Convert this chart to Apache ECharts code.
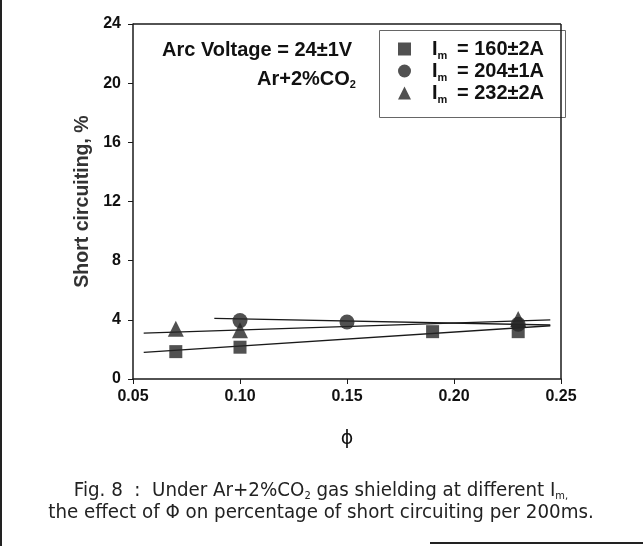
<!DOCTYPE html>
<html><head><meta charset="utf-8">
<script src="https://cdn.jsdelivr.net/npm/echarts@6/dist/echarts.min.js"></script>
<style>html,body{margin:0;padding:0;background:#fff}#c{width:643px;height:546px}</style>
</head><body><div id="c"></div>
<script>
// Data
const xTicks = [0.05, 0.10, 0.15, 0.20, 0.25];
const yTicks = [0, 4, 8, 12, 16, 20, 24];
const seriesNames = ['160±2A', '204±1A', '232±2A'];
const sqX = [0.07, 0.10, 0.19, 0.23];
const sqY = [1.85, 2.15, 3.2, 3.2];
const ciX = [0.10, 0.15, 0.23];
const ciY = [3.95, 3.85, 3.7];
const trX = [0.07, 0.10, 0.23];
const trY = [3.4, 3.3, 4.05];
// fitted lines (endpoints)
const sqFitX = [0.055, 0.245], sqFitY = [1.8, 3.6];
const ciFitX = [0.088, 0.245], ciFitY = [4.1, 3.65];
const trFitX = [0.055, 0.245], trFitY = [3.1, 4.0];

const zip = (a, b) => a.map((v, i) => [v, b[i]]);
const ink = '#1a1a1a';
const chart = echarts.init(document.getElementById('c'));
const fitLine = (name, xs, ys) => ({
  type: 'line', name: name, data: zip(xs, ys), showSymbol: false, symbol: 'none',
  lineStyle: { color: ink, width: 1.3 }, z: 2, silent: true
});
const pts = (name, xs, ys, sym, size) => ({
  type: 'scatter', name: name, data: zip(xs, ys), symbol: sym, symbolSize: size,
  itemStyle: { color: '#262626' }, z: 3
});
const bold = (s) => 'bold ' + s + 'px "Liberation Sans", Arial, sans-serif';
const cap = '20.3px "DejaVu Sans Condensed", "DejaVu Sans", sans-serif';
const capSub = '11px "DejaVu Sans Condensed", "DejaVu Sans", sans-serif';
chart.setOption({
  animation: false,
  backgroundColor: '#fff',
  grid: { left: 133, right: 82, top: 24, bottom: 167 },
  xAxis: {
    type: 'value', min: 0.05, max: 0.25, interval: 0.05,
    name: 'ϕ', nameLocation: 'middle', nameGap: 51,
    nameTextStyle: { fontFamily: 'DejaVu Sans', fontSize: 19, color: '#111' },
    axisLine: { show: true, lineStyle: { color: ink, width: 1.5 } },
    axisTick: { show: true, inside: false, length: 5, lineStyle: { color: ink } },
    axisLabel: { fontFamily: 'Liberation Sans', fontWeight: 'bold', fontSize: 16, color: '#111', margin: 10,
      formatter: v => v.toFixed(2) },
    splitLine: { show: false }
  },
  yAxis: {
    type: 'value', min: 0, max: 24, interval: 4,
    name: 'Short circuiting, %', nameLocation: 'middle', nameGap: 40,
    nameTextStyle: { fontFamily: 'Liberation Sans', fontWeight: 'bold', fontSize: 19.5, color: '#333' },
    axisLine: { show: true, lineStyle: { color: ink, width: 1.5 } },
    axisTick: { show: true, inside: false, length: 5, lineStyle: { color: ink } },
    axisLabel: { fontFamily: 'Liberation Sans', fontWeight: 'bold', fontSize: 16, color: '#111', margin: 12 },
    splitLine: { show: false }
  },
  legend: {
    left: 393, top: 34, orient: 'vertical', itemGap: 0, itemWidth: 13, itemHeight: 13,
    data: [
      { name: seriesNames[0], icon: 'rect' },
      { name: seriesNames[1], icon: 'circle' },
      { name: seriesNames[2], icon: 'triangle' }
    ],
    formatter: n => '{g|}{a|I}{s|m}{a| = ' + n + '}',
    textStyle: {
      color: '#111',
      rich: {
        g: { width: 16, lineHeight: 24 },
        a: { fontFamily: 'Liberation Sans', fontWeight: 'bold', fontSize: 20, color: '#111', lineHeight: 24 },
        s: { fontFamily: 'Liberation Sans', fontWeight: 'bold', fontSize: 11, color: '#111', lineHeight: 11, verticalAlign: 'bottom', padding: [0, 4, 0, 0] }
      }
    }
  },
  graphic: [
    { type: 'rect', left: 377, top: 28, shape: { width: 186, height: 87 }, style: { fill: 'none', stroke: '#666', lineWidth: 1 }, silent: true },
    { type: 'line', shape: { x1: 133, y1: 24, x2: 561, y2: 24 }, style: { stroke: ink, lineWidth: 1.5 } },
    { type: 'line', shape: { x1: 561, y1: 24, x2: 561, y2: 379 }, style: { stroke: ink, lineWidth: 1.5 } },
    { type: 'text', x: 162, y: 50, style: { text: 'Arc Voltage = 24±1V', font: bold(20), fill: '#111', verticalAlign: 'middle' } },
    { type: 'text', x: 257, y: 79, style: {
      text: '{a|Ar+2%CO}{s|2}', verticalAlign: 'middle',
      rich: { a: { font: bold(20), fill: '#111', lineHeight: 22 }, s: { font: bold(11), fill: '#111', lineHeight: 11, verticalAlign: 'bottom' } } } },
    { type: 'text', x: 321, y: 491, style: {
      text: '{a|Fig. 8  :  Under Ar+2%CO}{s|2}{a| gas shielding at different I}{s|m,}',
      align: 'center', verticalAlign: 'middle',
      rich: { a: { font: cap, fill: '#222' }, s: { font: capSub, fill: '#222', padding: [10, 0, 0, 0] } } } },
    { type: 'text', x: 321, y: 513, style: {
      text: 'the effect of Φ on percentage of short circuiting per 200ms.',
      align: 'center', verticalAlign: 'middle', font: cap, fill: '#222' } },
    { type: 'line', shape: { x1: 1, y1: 0, x2: 1, y2: 546 }, style: { stroke: '#222', lineWidth: 2 } },
    { type: 'line', shape: { x1: 430, y1: 543, x2: 643, y2: 543 }, style: { stroke: '#222', lineWidth: 2 } }
  ],
  series: [
    fitLine('sqfit', sqFitX, sqFitY),
    fitLine('cifit', ciFitX, ciFitY),
    fitLine('trfit', trFitX, trFitY),
    pts(seriesNames[0], sqX, sqY, 'rect', 13),
    pts(seriesNames[1], ciX, ciY, 'circle', 15),
    pts(seriesNames[2], trX, trY, 'triangle', 16)
  ]
});
</script></body></html>
